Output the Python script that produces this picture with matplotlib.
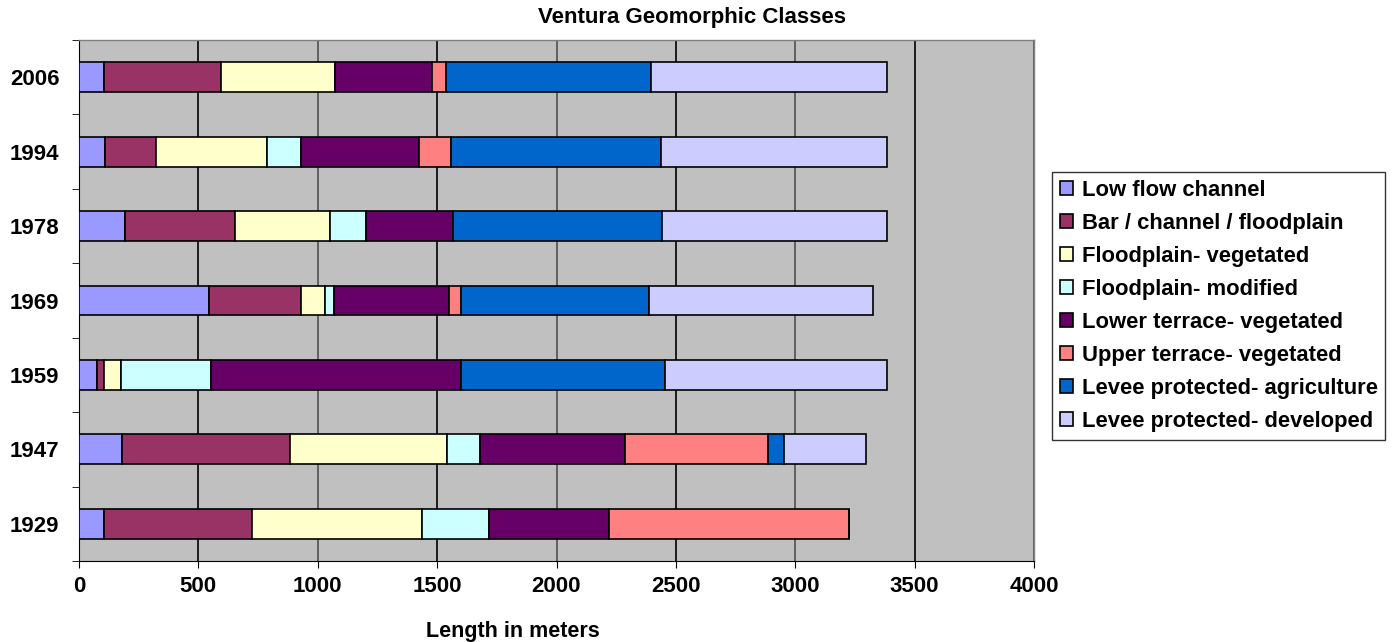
import matplotlib
matplotlib.use("Agg")
import matplotlib.pyplot as plt
import numpy as np

plt.rcParams['font.family'] = ['Liberation Sans', 'DejaVu Sans']
plt.rcParams['font.weight'] = 'bold'

years = ["2006", "1994", "1978", "1969", "1959", "1947", "1929"]
classes = ["Low flow channel", "Bar / channel / floodplain", "Floodplain- vegetated",
           "Floodplain- modified", "Lower terrace- vegetated", "Upper terrace- vegetated",
           "Levee protected- agriculture", "Levee protected- developed"]
colors = ["#9999FF", "#993366", "#FFFFCC", "#CCFFFF", "#660066", "#FF8080", "#0066CC", "#CCCCFF"]

low_flow      = [105, 110, 191, 543, 74, 180, 105]
bar_channel   = [491, 211, 462, 385, 32, 702, 618]
fp_vegetated  = [478, 468, 398, 101, 69, 661, 714]
fp_modified   = [0, 139, 151, 39, 379, 138, 280]
lower_terrace = [406, 498, 363, 480, 1048, 604, 504]
upper_terrace = [57, 134, 0, 54, 0, 602, 1004]
levee_agri    = [859, 876, 878, 787, 852, 64, 0]
levee_dev     = [988, 948, 941, 936, 930, 345, 0]

series = [low_flow, bar_channel, fp_vegetated, fp_modified,
          lower_terrace, upper_terrace, levee_agri, levee_dev]

fig = plt.figure(figsize=(13.95, 6.42), dpi=100)
ax = fig.add_axes([79/1395, 1-561/642, 955/1395, 521/642])
ax.set_facecolor("#C0C0C0")

y = np.arange(len(years))
left = np.zeros(len(years))
for vals, name, c in zip(series, classes, colors):
    v = np.array(vals, dtype=float)
    ax.barh(y, v, left=left, height=0.4, color=c, edgecolor="black",
            linewidth=1.2, label=name, zorder=3)
    left += v

ax.set_xlim(0, 4000)
ax.set_ylim(len(years) - 0.5, -0.5)
ax.set_xticks(np.arange(0, 4001, 500))
ax.set_xticklabels([str(v) for v in range(0, 4001, 500)], fontsize=16, fontweight='bold')
ax.set_yticks(y)
ax.set_yticklabels(years, fontsize=16, fontweight='bold')
ax.tick_params(axis='y', length=0, pad=14)
ax.set_yticks(np.arange(-0.5, len(years)), minor=True)
ax.tick_params(axis='y', which='minor', length=5, direction='out')
ax.tick_params(axis='x', length=5, direction='out', pad=6)

for xv in range(500, 4001, 500):
    ax.axvline(xv, color="black" if xv % 1000 else "#505050", linewidth=1.2, zorder=1)

for s in ['top', 'right']:
    ax.spines[s].set_color("#808080")
    ax.spines[s].set_linewidth(1)
ax.spines['left'].set_color('black')
ax.spines['bottom'].set_color('black')

fig.text(513/1395, 1-631/642, "Length in meters", fontsize=15.5, fontweight='bold',
         ha='center', va='center')
fig.text(692/1395, 1-18/642, "Ventura Geomorphic Classes", fontsize=16, fontweight='bold',
         ha='center', va='center')

leg = fig.legend(loc='upper left', bbox_to_anchor=(1052/1395, 1-172/642),
                 frameon=True, fancybox=False, edgecolor='black',
                 handlelength=0.6, handleheight=0.6, handletextpad=0.4,
                 labelspacing=0.55, borderpad=0.35, borderaxespad=0,
                 prop={'weight': 'bold', 'size': 15.8})
leg.get_frame().set_linewidth(1)

fig.savefig("out.png", dpi=100, facecolor="white")
